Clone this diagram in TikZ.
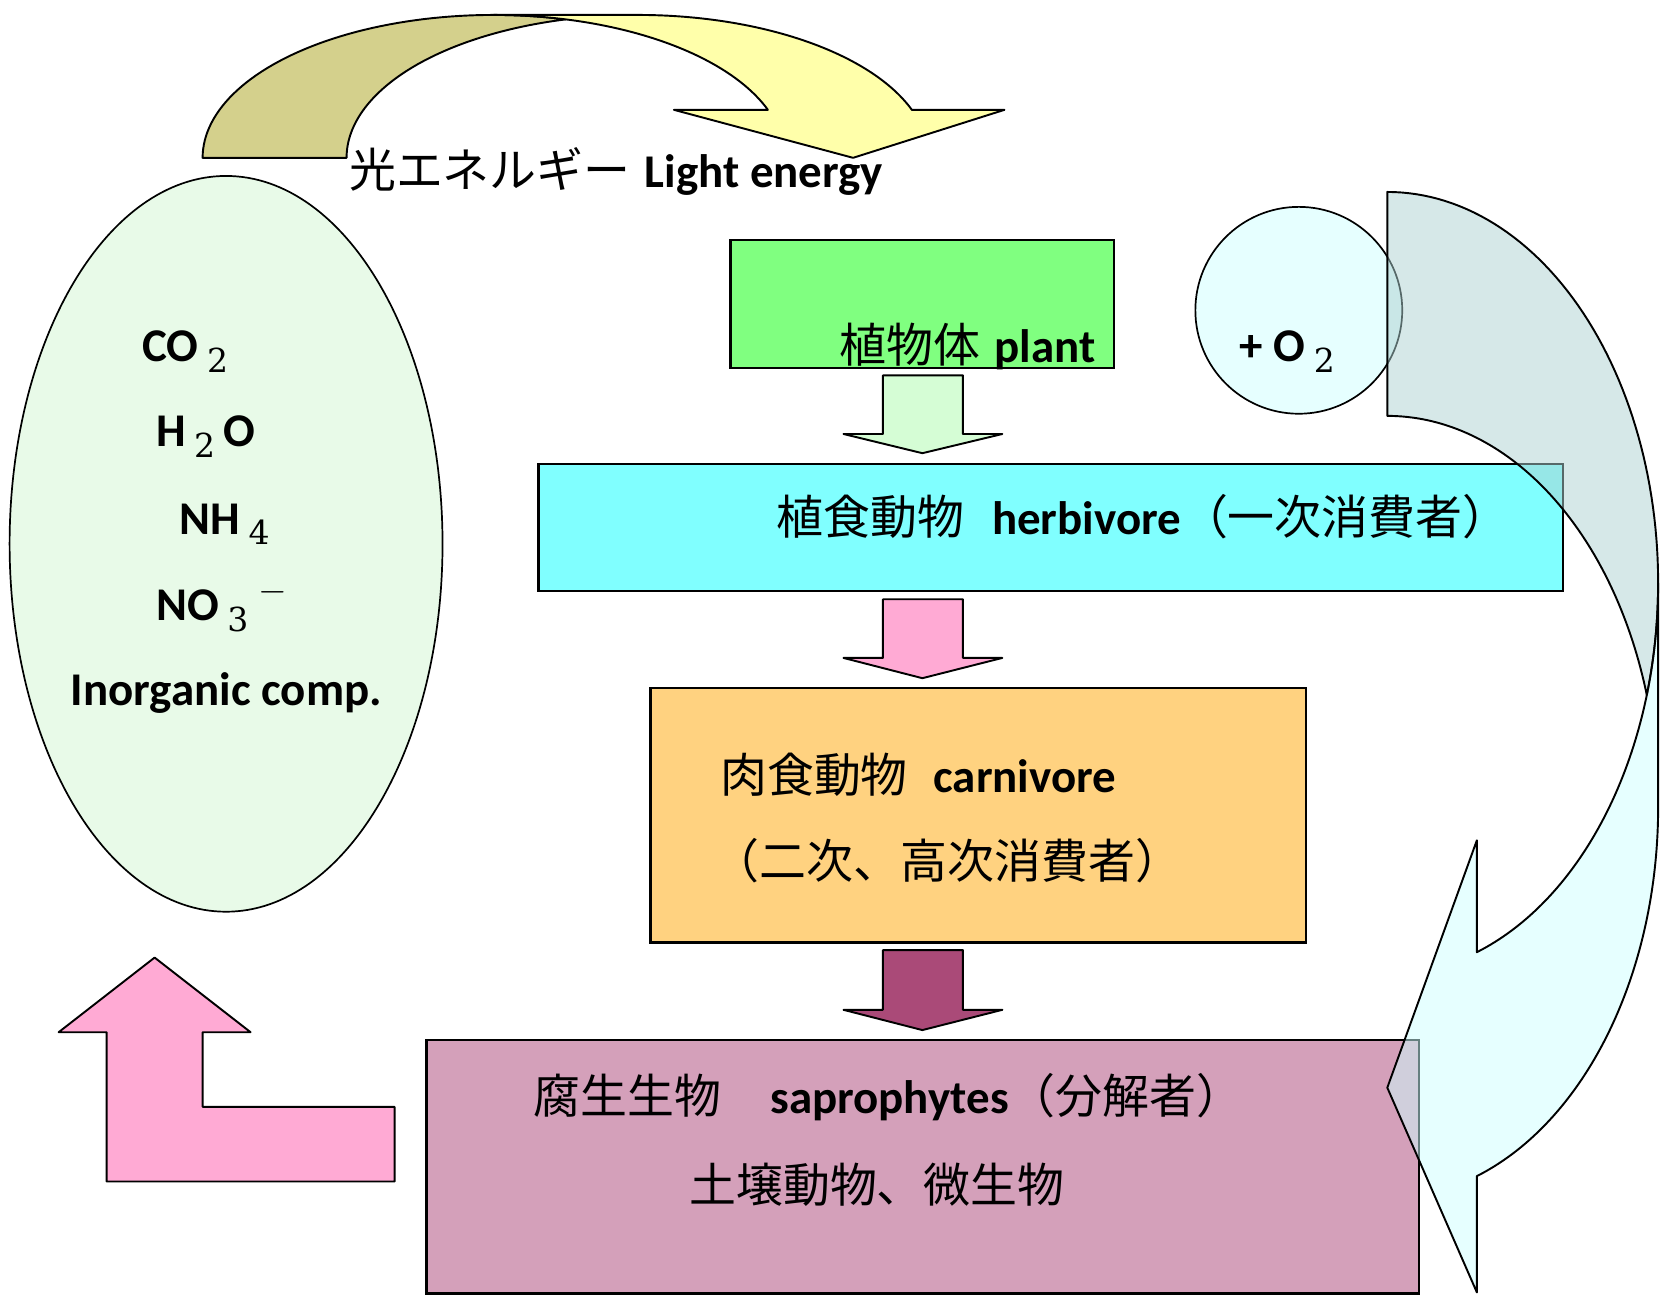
\documentclass[tikz,border=0pt]{standalone}
\usepackage{fontspec}
\newfontfamily\jp{Noto Sans CJK JP}
\newfontfamily\calfont{Carlito}
\newfontfamily\subfont{DejaVu Serif}
\usetikzlibrary{calc,shapes.geometric}
\definecolor{olivec}{HTML}{D4D08C}
\definecolor{yelc}{HTML}{FFFFAA}
\definecolor{ellc}{HTML}{E8FAE8}
\definecolor{plantc}{HTML}{80FF80}
\definecolor{herbc}{HTML}{80FFFF}
\definecolor{carnc}{HTML}{FFD280}
\definecolor{sapc}{HTML}{D4A0BA}
\definecolor{arr1c}{HTML}{D5FDD5}
\definecolor{pinkc}{HTML}{FFAAD4}
\definecolor{purpc}{HTML}{AA4A78}
\definecolor{oxyc}{HTML}{E6FFFF}
\definecolor{backc}{HTML}{ADD1D1}
\definecolor{frontc}{HTML}{CDFFFF}
\newcommand\en[1]{{\calfont\bfseries #1}}
\newcommand\chsub[1]{\hspace{4pt}\raisebox{-5pt}{\fontsize{15.5}{16}\selectfont\subfont #1}}
\newcommand\blockdn[4]{\draw[outl, fill=#1] (828,#2) -- (903,#2) -- (903,#3) -- (940,#3) -- (865,#4) -- (791,#3) -- (828,#3) -- cycle;}
\tikzset{
  outl/.style={draw=black, line width=0.9pt, line join=round},
  boxn/.style={draw=black, line width=1.1pt, inner sep=0pt},
  lbl/.style={anchor=base west, inner sep=0pt, font=\fontsize{22}{26}\selectfont},
}
\begin{document}
\begin{tikzpicture}[x=0.5pt,y=-0.5pt]
\useasboundingbox (0,0) rectangle (1568,1215);

% left ellipse
\node[draw=black, line width=0.8pt, fill=ellc, ellipse, minimum width=203pt, minimum height=345pt, inner sep=0pt] (inorgell) at (212,510) {};

% top curved arrow (back part)
\filldraw[outl, fill=olivec] (190,148)
  -- plot[domain=180:284.3, samples=60, variable=\t] ({463+273*cos(\t)},{148+134*sin(\t)})
  -- plot[domain=255.7:180, samples=60, variable=\t] ({598+273*cos(\t)},{148+134*sin(\t)})
  -- cycle;
% top curved arrow (front part)
\filldraw[outl, fill=yelc] (800,148) -- (632,103) -- (720,103)
  -- plot[domain=340.4:270, samples=60, variable=\t] ({463+273*cos(\t)},{148+134*sin(\t)})
  -- plot[domain=270:340.4, samples=60, variable=\t] ({598+273*cos(\t)},{148+134*sin(\t)})
  -- (942,103) -- cycle;

\node[lbl] (light) at (327,176) {{\jp 光エネルギー} \en{Light energy}};

% chemical labels
\node[lbl] (co2) at (133,339) {\en{CO}\chsub{2}};
\node[lbl] (h2o) at (146,419) {\en{H}\chsub{2}\hspace{4pt}\en{O}};
\node[lbl] (nh4) at (168,501) {\en{NH}\chsub{4}};
\node[lbl] (no3) at (146,582) {\en{NO}\chsub{3}\hspace{5pt}{\fontsize{18}{18}\selectfont\raisebox{9pt}{$-$}}};
\node[lbl] (inorg) at (66,662) {\en{Inorganic comp.}};

% boxes
\node[boxn, fill=plantc, minimum width=180pt, minimum height=60pt] (plant) at (865,285) {};
\node[boxn, fill=herbc, minimum width=480.5pt, minimum height=59.5pt] (herb) at (985.5,494.5) {};
\node[boxn, fill=carnc, minimum width=307.5pt, minimum height=119.5pt] (carn) at (917.5,764.5) {};
\node[boxn, fill=sapc, minimum width=465.5pt, minimum height=119pt] (sap) at (865.5,1094) {};

\node[lbl] (plantt) at (787,340) {{\jp 植物体} \en{plant}};
\node[lbl] (herbt) at (728,501) {{\jp 植食動物}\hspace{13pt}\en{herbivore}{\jp （一次消費者）}};
\node[lbl] (carnt1) at (675,743) {{\jp 肉食動物}\hspace{12pt}\en{carnivore}};
\node[lbl] (carnt2) at (668,824) {{\jp （二次、高次消費者）}};
\node[lbl] (sapt1) at (500,1044) {{\jp 腐生生物}\hspace{23pt}\en{saprophytes}{\jp （分解者）}};
\node[lbl] (sapt2) at (646,1128) {{\jp 土壌動物、微生物}};

% down block arrows
\blockdn{arr1c}{352}{407}{425}
\blockdn{pinkc}{562}{617}{636}
\blockdn{purpc}{891}{947}{966}

% L-shaped arrow
\draw[outl, fill=pinkc] (145,898) -- (235,968) -- (190,968) -- (190,1038) -- (370,1038)
  -- (370,1108) -- (100,1108) -- (100,968) -- (55,968) -- cycle;

% O2 circle
\node[draw=black, line width=0.8pt, fill=oxyc, circle, minimum size=97pt, inner sep=0pt] (oxy) at (1218,291) {};
\node[lbl] (oxyt) at (1162,339) {\en{+ O}\chsub{2}};

% right curved arrow (semi-transparent)
\filldraw[outl, fill=backc, fill opacity=0.5] (1301,180)
  -- plot[domain=-90:16.6, samples=70, variable=\t] ({1301+254*cos(\t)},{546.8+366.8*sin(\t)})
  -- plot[domain=-16.6:-90, samples=70, variable=\t] ({1301+254*cos(\t)},{756.8+366.8*sin(\t)})
  -- cycle;
\filldraw[outl, fill=frontc, fill opacity=0.5] (1301,1020) -- (1385,788) -- (1385,893)
  -- plot[domain=70.7:0, samples=70, variable=\t] ({1301+254*cos(\t)},{546.8+366.8*sin(\t)})
  -- plot[domain=0:70.7, samples=70, variable=\t] ({1301+254*cos(\t)},{756.8+366.8*sin(\t)})
  -- (1385,1212) -- cycle;
\end{tikzpicture}
\end{document}
